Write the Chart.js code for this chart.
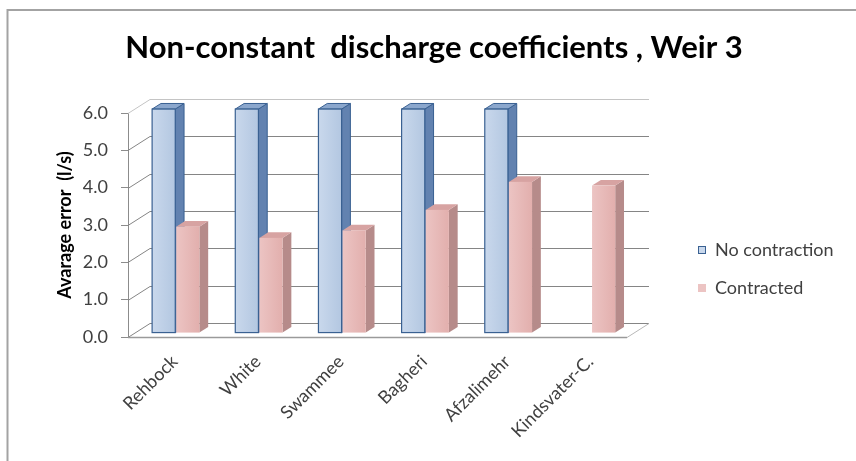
<!DOCTYPE html>
<html>
<head>
<meta charset="utf-8">
<script src="https://cdn.jsdelivr.net/npm/chart.js@4.4.1/dist/chart.umd.min.js"></script>
<style>
  html, body { margin: 0; padding: 0; background: #ffffff; }
  #wrap { width: 856px; height: 461px; position: relative; }
</style>
</head>
<body>
<div id="wrap"><canvas id="chart" width="856" height="461"></canvas></div>
<script>
// Weirs / formulas compared
const categories = ['Rehbock', 'White', 'Swammee', 'Bagheri', 'Afzalimehr', 'Kindsvater-C.'];
// Average error (l/s) for each discharge-coefficient formula
const noContraction = [6.0, 6.0, 6.0, 6.0, 6.0, null];
const contracted = [2.85, 2.55, 2.75, 3.3, 4.05, 3.95];
// Value axis
const yMin = 0;
const yMax = 6;
const yStep = 1;

const FONT = 'Lato, "Open Sans", sans-serif';

// Perspective of the pseudo-3D box: back wall offset from the front plane
const DEPTH_X = 22, DEPTH_Y = -14;
const BAR_FRONT = 0.28;   // bars sit this far into the box
const BAR_DEPTH = 0.40;   // and are this deep

const faceStyles = [
  { front: ['#c9d8ec', '#b3c7e1'], side: '#6282b0', top: '#8ba7cd', edge: '#3a6192' },
  { front: ['#ecc4c3', '#e2afad'], side: '#b68b8a', top: '#d7a3a2', edge: null }
];

const box3d = {
  id: 'box3d',
  beforeDatasetsDraw(chart) {
    const { ctx, chartArea: a, scales } = chart;
    const ys = scales.y;
    ctx.save();
    ctx.lineWidth = 1;
    // side-wall and back-wall gridlines
    ys.ticks.forEach(t => {
      const py = Math.round(ys.getPixelForValue(t.value)) + 0.5;
      ctx.strokeStyle = t.value === yMax ? '#c4c4c4' : '#858585';
      ctx.beginPath();
      ctx.moveTo(a.left, py);
      ctx.lineTo(a.left + DEPTH_X, py + DEPTH_Y);
      ctx.lineTo(a.right + DEPTH_X, py + DEPTH_Y);
      ctx.stroke();
    });
    // floor: front edge and right edge
    const fb = Math.round(ys.getPixelForValue(yMin)) + 0.5;
    ctx.strokeStyle = '#9a9a9a';
    ctx.lineWidth = 1.5;
    ctx.beginPath();
    ctx.moveTo(a.left, fb);
    ctx.lineTo(a.right, fb);
    ctx.stroke();
    ctx.strokeStyle = '#b8b8b8';
    ctx.lineWidth = 1;
    ctx.beginPath();
    ctx.moveTo(a.right, fb);
    ctx.lineTo(a.right + DEPTH_X, fb + DEPTH_Y);
    ctx.stroke();
    ctx.restore();
  },
  beforeDatasetDraw() {
    return false;
  },
  afterDatasetsDraw(chart) {
    const ctx = chart.ctx;
    const fx = BAR_FRONT * DEPTH_X, fy = BAR_FRONT * DEPTH_Y;
    const dx = BAR_DEPTH * DEPTH_X, dy = BAR_DEPTH * DEPTH_Y;
    ctx.save();
    chart.data.datasets.forEach((ds, di) => {
      const st = faceStyles[di];
      chart.getDatasetMeta(di).data.forEach((bar, i) => {
        if (ds.data[i] == null) return;
        const p = bar.getProps(['x', 'y', 'base', 'width'], true);
        const l = p.x - p.width / 2 + fx, r = p.x + p.width / 2 + fx;
        const t = p.y + fy, b = p.base + fy;
        // side face
        ctx.fillStyle = st.side;
        ctx.beginPath();
        ctx.moveTo(r, t); ctx.lineTo(r + dx, t + dy); ctx.lineTo(r + dx, b + dy); ctx.lineTo(r, b);
        ctx.closePath(); ctx.fill();
        if (st.edge) { ctx.strokeStyle = st.edge; ctx.lineWidth = 1; ctx.stroke(); }
        // top face
        ctx.fillStyle = st.top;
        ctx.beginPath();
        ctx.moveTo(l, t); ctx.lineTo(l + dx, t + dy); ctx.lineTo(r + dx, t + dy); ctx.lineTo(r, t);
        ctx.closePath(); ctx.fill();
        if (st.edge) { ctx.stroke(); }
        // front face
        const g = ctx.createLinearGradient(l, 0, r, 0);
        g.addColorStop(0, st.front[0]);
        g.addColorStop(1, st.front[1]);
        ctx.fillStyle = g;
        ctx.fillRect(l, t, r - l, b - t);
        if (st.edge) {
          ctx.strokeStyle = st.edge;
          ctx.lineWidth = 1.2;
          ctx.strokeRect(l, t, r - l, b - t);
        }
      });
    });
    ctx.restore();
  },
  afterDraw(chart) {
    const ctx = chart.ctx;
    ctx.save();
    // chart title
    ctx.fillStyle = '#000000';
    ctx.font = 'bold 31px ' + FONT;
    ctx.textAlign = 'center';
    ctx.textBaseline = 'middle';
    ctx.fillText('Non-constant  discharge coefficients , Weir 3', 434, 48);
    // legend
    ctx.font = '18px ' + FONT;
    ctx.textAlign = 'left';
    chart.data.datasets.forEach((ds, di) => {
      const st = faceStyles[di];
      const cy = 250 + di * 38;
      ctx.fillStyle = st.front[0];
      ctx.fillRect(698, cy - 4, 8, 8);
      if (st.edge) {
        ctx.strokeStyle = st.edge;
        ctx.lineWidth = 1;
        ctx.strokeRect(698.5, cy - 3.5, 7, 7);
      }
      ctx.fillStyle = '#404040';
      ctx.fillText(ds.label, 715, cy);
    });
    // outer frame
    ctx.strokeStyle = '#a3a3a3';
    ctx.lineWidth = 2;
    ctx.beginPath();
    ctx.moveTo(7.5, 461);
    ctx.lineTo(7.5, 10);
    ctx.lineTo(856, 10);
    ctx.stroke();
    ctx.restore();
  }
};

new Chart(document.getElementById('chart'), {
  type: 'bar',
  data: {
    labels: categories,
    datasets: [
      { label: 'No contraction', data: noContraction, backgroundColor: '#b9cde5', borderColor: '#3a6192' },
      { label: 'Contracted', data: contracted, backgroundColor: '#e6b9b8' }
    ]
  },
  options: {
    responsive: false,
    devicePixelRatio: 1,
    animation: false,
    categoryPercentage: 0.58,
    barPercentage: 0.96,
    layout: { padding: { left: 50, right: 229, top: 113, bottom: 0 } },
    plugins: {
      legend: { display: false },
      title: { display: false },
      tooltip: { enabled: false }
    },
    scales: {
      x: {
        type: 'category',
        offset: true,
        grid: { display: false },
        border: { display: false },
        ticks: {
          autoSkip: false,
          minRotation: 45,
          maxRotation: 45,
          padding: 6,
          labelOffset: 5,
          color: '#404040',
          font: { family: FONT, size: 18 }
        },
        afterFit(scale) { scale.height = 124; }
      },
      y: {
        min: yMin,
        max: yMax,
        ticks: {
          stepSize: yStep,
          padding: 13,
          color: '#404040',
          font: { family: FONT, size: 18 },
          callback: v => Number(v).toFixed(1)
        },
        grid: { drawOnChartArea: false, drawTicks: true, tickLength: 7, color: '#8c8c8c' },
        border: { display: true, color: '#8c8c8c' },
        title: {
          display: true,
          text: 'Avarage error  (l/s)',
          color: '#000000',
          font: { family: FONT, size: 18, weight: 'bold' },
          padding: { top: 4, bottom: 4 }
        },
        afterFit(scale) { scale.width = 78; }
      }
    }
  },
  plugins: [box3d]
});
</script>
</body>
</html>
